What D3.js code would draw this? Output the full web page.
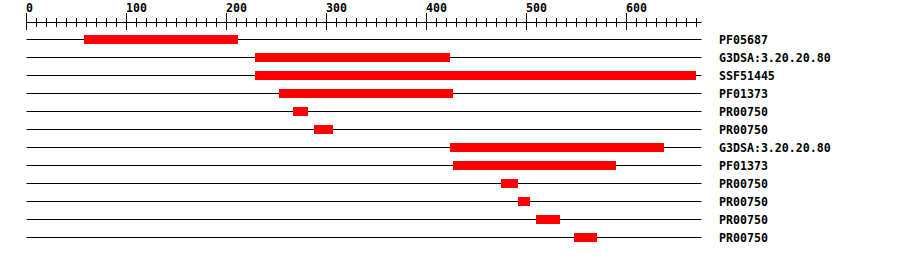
<html>
<style>
body { margin: 0; background: #fff; }
text { font-family: "DejaVu Sans Mono", monospace; font-weight: bold; font-size: 11.6px; }
</style>
<svg width="900" height="256"></svg>
<script src="https://d3js.org/d3.v7.min.js"></script>
<script>

var labels = ["PF05687", "G3DSA:3.20.20.80", "SSF51445", "PF01373", "PR00750", "PR00750",
              "G3DSA:3.20.20.80", "PF01373", "PR00750", "PR00750", "PR00750", "PR00750"];
var starts = [58, 229, 229, 253, 267, 288, 424, 427, 475, 492, 510, 548];
var ends   = [212, 424, 670, 427, 282, 307, 638, 590, 492, 504, 534, 571];
var majorTicks = [0, 100, 200, 300, 400, 500, 600];
var seqLength = 675;

var svg = d3.select("svg");

var x = d3.scaleLinear()
    .domain([0, seqLength])
    .range([26.5, 701.5]);

var y = d3.scaleBand()
    .domain(d3.range(labels.length))
    .range([30.5, 30.5 + 18 * labels.length]);

// ruler
var ruler = svg.append("g");
ruler.append("line")
    .attr("x1", x(0)).attr("x2", x(seqLength))
    .attr("y1", 22.5).attr("y2", 22.5)
    .attr("stroke", "#000");

ruler.selectAll("line.minor")
  .data(d3.range(0, seqLength + 1, 10).filter(function(d) { return d % 100 != 0; }))
  .enter().append("line")
    .attr("class", "minor")
    .attr("x1", function(d) { return x(d); }).attr("x2", function(d) { return x(d); })
    .attr("y1", 18).attr("y2", 27)
    .attr("stroke", "#000");

ruler.selectAll("line.major")
  .data(majorTicks)
  .enter().append("line")
    .attr("class", "major")
    .attr("x1", function(d) { return x(d); }).attr("x2", function(d) { return x(d); })
    .attr("y1", 13).attr("y2", 30)
    .attr("stroke", "#000");

ruler.selectAll("text")
  .data(majorTicks)
  .enter().append("text")
    .attr("x", function(d) { return x(d) - 0.5; })
    .attr("y", 12)
    .text(function(d) { return d; });

// rows
var rows = svg.selectAll("g.row")
  .data(labels)
  .enter().append("g")
    .attr("class", "row")
    .attr("transform", function(d, i) { return "translate(0," + (y(i) + 9) + ")"; });

rows.append("line")
    .attr("x1", x(0)).attr("x2", x(seqLength))
    .attr("stroke", "#000");

rows.append("rect")
    .attr("x", function(d, i) { return x(starts[i]) - 0.5; })
    .attr("width", function(d, i) { return x(ends[i]) - x(starts[i]); })
    .attr("y", -4.5)
    .attr("height", 9)
    .attr("fill", "#ff0000");

rows.append("text")
    .attr("x", 719)
    .attr("y", 4)
    .text(function(d) { return d; });

</script>
</html>
